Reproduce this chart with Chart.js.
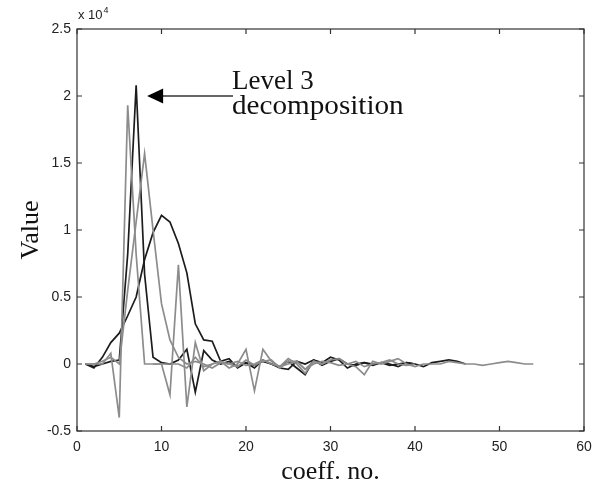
<!DOCTYPE html>
<html><head><meta charset="utf-8">
<script src="https://cdn.jsdelivr.net/npm/chart.js@4/dist/chart.umd.min.js"></script>
<style>html,body{margin:0;padding:0;background:#fff}#wrap{width:602px;height:497px}</style>
</head><body><div id="wrap"><canvas id="c" width="602" height="497"></canvas></div>
<script>
// coefficient numbers
const coeffNo = [1,2,3,4,5,6,7,8,9,10,11,12,13,14,15,16,17,18,19,20,21,22,23,24,25,26,27,28,29,30,
  31,32,33,34,35,36,37,38,39,40,41,42,43,44,45,46,47,48,49,50,51,52,53,54];
// values in units of 10^4
const level3Sharp = [0,-0.02,0,0.02,0.03,0.82,2.08,0.67,0.05,0.01,0.0,0.03,0.11,-0.21,0.1,0.03,0.0,0.02,-0.02,0.01,
  -0.03,0.03,0.0,-0.02,0.02,-0.03,-0.08,0.03,0.01,0.05,0.03,-0.03,0.0,0.01,-0.01,0.01,0.0,-0.02,0.01,0.0,
  -0.02,0.01,0.02,0.03,0.02,0.0];
const broadDark = [0,-0.03,0.05,0.16,0.23,0.36,0.5,0.78,0.98,1.11,1.06,0.9,0.68,0.3,0.18,0.17,0.02,0.04,-0.03,0.01,
  -0.01,0.02,0.0,-0.03,-0.04,0.02,0.0,0.03,-0.01,0.02,0.04,0.0,-0.01,0.01,0.0,0.01,-0.01,0.0,0.01,0.0];
const sharpGray = [0,0,0,0.08,-0.4,1.93,0.82,0.0,0.0,0.0,0.0,0.0,-0.03,0.05,-0.02,0.0,0.02,0.0,-0.02,0.03,
  -0.01,0.02,0.03,-0.03,0.02,0.02,-0.04,0.02,0.0,0.03];
const midGray = [0,0,0.02,0.05,0.0,0.55,1.06,1.57,1.0,0.45,0.18,0.05,0.0,0.02,0.0,-0.03,0.01,0.0,0.02,-0.01,
  0.0,0.03,0.0,-0.02,0.0,0.02,-0.04,0.0,0.02,0.01,-0.01,0.0,0.02,-0.02,0.0,0.01,0.03,0.0,-0.01,0.0];
const noisyGrayStart = 9;
const noisyGray = [0,0,-0.23,0.74,-0.32,0.16,-0.05,0.0,0.02,-0.03,0,0.11,-0.2,0.11,0.02,-0.02,0.04,0,-0.07,0.02,
  0,0.03,0.04,0,-0.02,-0.08,0.02,0,0.02,0.04,0,-0.02,0,0,0,0.02,0.01,0,0,-0.01,0,0.01,0.02,0.01,0,0];
const xTicks = [0,10,20,30,40,50,60];
const yTicks = [-0.5,0,0.5,1,1.5,2,2.5];

function pts(vals, start) {
  const off = coeffNo.indexOf(start);
  return vals.map((v, i) => ({x: coeffNo[off + i], y: v}));
}
const GRAY = '#8c8c8c', DARK = '#1c1c1c';
const ds = (vals, start, col, w) => ({data: pts(vals, start), borderColor: col, borderWidth: w, pointRadius: 0, fill: false, tension: 0});

const framePlugin = {
  id: 'frame',
  afterDraw(chart) {
    const c = chart.ctx, a = chart.chartArea, xs = chart.scales.x, ys = chart.scales.y;
    c.save();
    c.strokeStyle = '#333'; c.lineWidth = 1.2;
    c.strokeRect(a.left, a.top, a.right - a.left, a.bottom - a.top);
    c.beginPath();
    xTicks.forEach(t => { const p = xs.getPixelForValue(t);
      c.moveTo(p, a.bottom); c.lineTo(p, a.bottom - 5); c.moveTo(p, a.top); c.lineTo(p, a.top + 5); });
    yTicks.forEach(t => { const p = ys.getPixelForValue(t);
      c.moveTo(a.left, p); c.lineTo(a.left + 5, p); c.moveTo(a.right, p); c.lineTo(a.right - 5, p); });
    c.stroke();
    // exponent
    c.fillStyle = '#222';
    c.font = '13px "Liberation Sans", Arial, sans-serif';
    c.textBaseline = 'alphabetic'; c.textAlign = 'left';
    c.fillText('x 10', a.left + 1, 19);
    const w = c.measureText('x 10').width;
    c.font = '9px "Liberation Sans", Arial, sans-serif';
    c.fillText('4', a.left + w + 2, 13);
    // axis titles
    c.font = '26px "Liberation Serif", "Times New Roman", serif';
    c.fillStyle = '#111';
    c.textAlign = 'center';
    c.fillText('coeff. no.', (a.left + a.right) / 2, 479);
    c.save();
    c.translate(38, (a.top + a.bottom) / 2);
    c.rotate(-Math.PI / 2);
    c.fillText('Value', 0, 0);
    c.restore();
    // annotation
    c.font = '27px "Liberation Serif", "Times New Roman", serif';
    c.textAlign = 'left';
    c.fillText('Level 3', 232, 89);
    c.save();
    c.translate(232, 114);
    c.scale(1.08, 1);
    c.fillText('decomposition', 0, 0);
    c.restore();
    const tipX = xs.getPixelForValue(8.3), tipY = ys.getPixelForValue(2.0);
    c.strokeStyle = '#333'; c.lineWidth = 1.3;
    c.beginPath(); c.moveTo(tipX + 14, tipY); c.lineTo(233, tipY); c.stroke();
    c.fillStyle = '#000';
    c.beginPath(); c.moveTo(tipX, tipY); c.lineTo(tipX + 16, tipY - 7.5); c.lineTo(tipX + 16, tipY + 7.5); c.closePath(); c.fill();
    c.restore();
  }
};

new Chart(document.getElementById('c'), {
  type: 'line',
  data: { datasets: [
    ds(noisyGray, noisyGrayStart, GRAY, 1.7),
    ds(midGray, 1, GRAY, 1.7),
    ds(sharpGray, 1, GRAY, 1.7),
    ds(broadDark, 1, DARK, 1.7),
    ds(level3Sharp, 1, DARK, 1.7)
  ]},
  options: {
    responsive: false, animation: false, devicePixelRatio: 1,
    layout: { padding: { top: 29, right: 18, left: 0, bottom: 0 } },
    plugins: { legend: { display: false }, tooltip: { enabled: false } },
    scales: {
      x: { type: 'linear', min: 0, max: 60,
        afterBuildTicks: s => { s.ticks = xTicks.map(v => ({value: v})); },
        afterFit: s => { s.height = 66; },
        grid: { display: false, drawTicks: false }, border: { display: false },
        ticks: { padding: 8, color: '#222', font: { size: 14, family: '"Liberation Sans", Arial, sans-serif' },
          callback: v => String(v), maxRotation: 0 } },
      y: { type: 'linear', min: -0.5, max: 2.5,
        afterBuildTicks: s => { s.ticks = yTicks.map(v => ({value: v})); },
        afterFit: s => { s.width = 77; },
        grid: { display: false, drawTicks: false }, border: { display: false },
        ticks: { padding: 6, color: '#222', font: { size: 14, family: '"Liberation Sans", Arial, sans-serif' },
          callback: v => String(+Number(v).toFixed(1)) } }
    }
  },
  plugins: [framePlugin]
});
</script></body></html>
